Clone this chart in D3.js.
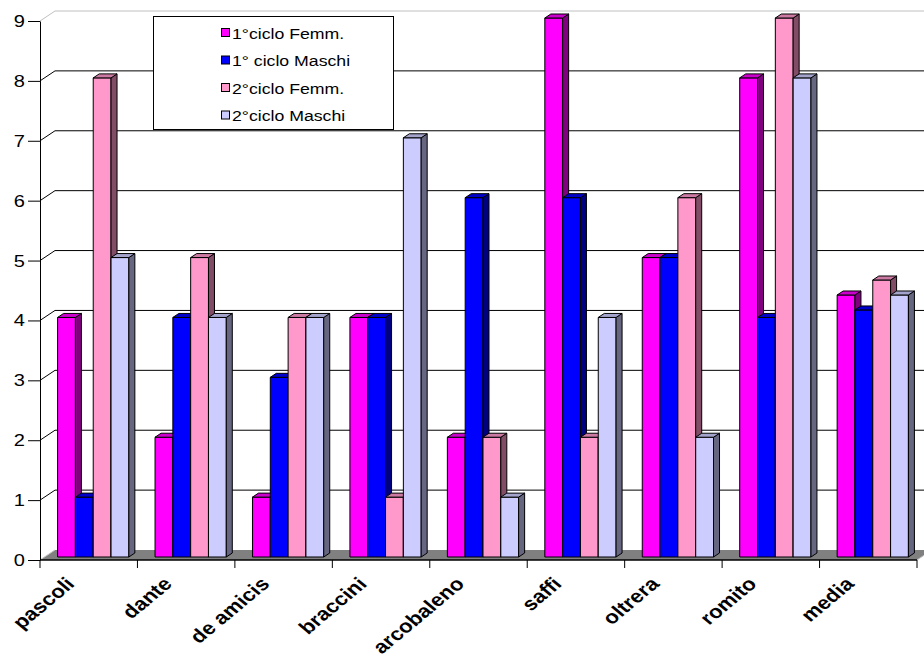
<!DOCTYPE html>
<html><head><meta charset="utf-8">
<script src="https://cdn.jsdelivr.net/npm/d3@7"></script>
<style>body{margin:0;background:#fff}svg{display:block}</style>
</head><body>
<svg id="c" width="924" height="660"></svg>
<script>
const categories = ["pascoli","dante","de amicis","braccini","arcobaleno","saffi","oltrera","romito","media"];
const seriesNames = ["1°ciclo Femm.","1° ciclo Maschi","2°ciclo Femm.","2°ciclo Maschi"];
const femm1   = [4,2,1,4,2,9,5,8,4.375];
const maschi1 = [1,4,3,4,6,6,5,4,4.125];
const femm2   = [8,5,4,1,2,2,6,9,4.625];
const maschi2 = [5,4,4,7,1,4,2,8,4.375];
const yTicks = [0,1,2,3,4,5,6,7,8,9];
const frontColors = ["#FF00FF","#0000FF","#FF99CC","#CCCCFF"];
const sideColors  = ["#800080","#000080","#804C66","#666680"];
const topColors   = ["#CC00CC","#0000CC","#CC7AA3","#A3A3CC"];

const seriesData = [femm1, maschi1, femm2, maschi2];
const svg = d3.select("#c");
const font = "'Liberation Sans', Arial, sans-serif";
const SX = 1.18; // horizontal stretch of text in the reference

const x = d3.scaleBand().domain(categories).range([40, 917]).paddingInner(0).paddingOuter(0);
const xs = d3.scaleBand().domain(seriesNames).range([0, x.bandwidth()]).paddingInner(0).paddingOuter(0.735);
const y = d3.scaleLinear().domain([0, 9]).range([560, 21]);
const DX = 15, DY = -10;          // full depth
const d0 = 0.3, d1 = 0.7;         // bar depth range

const x0 = 40, x1 = 917;
// floor
svg.append("path")
  .attr("d", `M${x0},${y(0)} L${x1},${y(0)} L${x1+DX},${y(0)+DY} L${x0+DX},${y(0)+DY} Z`)
  .attr("fill", "#808080").attr("stroke", "none");
// back wall gridlines + side wall lines
const g = svg.append("g");
yTicks.forEach(v => {
  if (v === 0) return;
  const col = v === 9 ? "#c0c0c0" : "#000";
  g.append("line").attr("x1", x0+DX).attr("x2", 924).attr("y1", y(v)+DY).attr("y2", y(v)+DY)
    .attr("stroke", col).attr("stroke-width", 1);
  g.append("line").attr("x1", x0).attr("x2", x0+DX).attr("y1", y(v)).attr("y2", y(v)+DY)
    .attr("stroke", col).attr("stroke-width", 1);
});
g.append("line").attr("x1", x0).attr("x2", x0+DX).attr("y1", y(0)).attr("y2", y(0)+DY)
  .attr("stroke", "#c0c0c0");
g.append("line").attr("x1", x1).attr("x2", x1+DX).attr("y1", y(0)).attr("y2", y(0)+DY)
  .attr("stroke", "#c0c0c0");

// bars
const bars = svg.append("g").attr("stroke", "#000").attr("stroke-width", 1).attr("stroke-linejoin", "round");
categories.forEach((c, ci) => {
  seriesNames.forEach((s, si) => {
    const v = seriesData[si][ci];
    const w = xs.bandwidth();
    const fx = x(c) + xs(s) + d0*DX;
    const fyTop = y(v) + d0*DY, fyBot = y(0) + d0*DY;
    const ddx = (d1-d0)*DX, ddy = (d1-d0)*DY;
    bars.append("rect").attr("x", fx).attr("y", fyTop).attr("width", w).attr("height", fyBot-fyTop)
      .attr("fill", frontColors[si]);
    bars.append("path").attr("d", `M${fx+w},${fyTop} L${fx+w+ddx},${fyTop+ddy} L${fx+w+ddx},${fyBot+ddy} L${fx+w},${fyBot} Z`)
      .attr("fill", sideColors[si]);
    bars.append("path").attr("d", `M${fx},${fyTop} L${fx+ddx},${fyTop+ddy} L${fx+w+ddx},${fyTop+ddy} L${fx+w},${fyTop} Z`)
      .attr("fill", topColors[si]);
  });
});

// y axis
const ya = svg.append("g").attr("transform", `translate(${x0},0)`)
  .call(d3.axisLeft(y).tickValues(yTicks).tickSize(12).tickSizeOuter(0));
ya.select(".domain").attr("stroke", "#000");
ya.selectAll(".tick line").attr("stroke", "#000");
ya.selectAll(".tick text").remove();
svg.append("g").selectAll("text").data(yTicks).join("text")
  .attr("transform", d => `translate(25,${y(d)+6}) scale(${SX},1)`)
  .attr("text-anchor", "end")
  .attr("font-family", font).attr("font-size", 17).attr("fill", "#000")
  .text(d => d);

// x axis
svg.append("line").attr("x1", x0).attr("x2", x1).attr("y1", y(0)).attr("y2", y(0)).attr("stroke", "#000").attr("stroke-width", 1.5);
const bounds = categories.map(c => x(c)).concat([x1]);
svg.append("g").selectAll("line").data(bounds).join("line")
  .attr("x1", d => d).attr("x2", d => d).attr("y1", y(0)).attr("y2", y(0)+8).attr("stroke", "#000");
svg.append("g").selectAll("text").data(categories).join("text")
  .attr("transform", d => `translate(${x(d) + x.bandwidth()/2 - 13},585) scale(1.2,1) rotate(-45)`)
  .attr("text-anchor", "end")
  .attr("font-family", font).attr("font-size", 18.5).attr("font-weight", "bold").attr("fill", "#000")
  .text(d => d);

// legend
const lg = svg.append("g");
lg.append("rect").attr("x", 153.5).attr("y", 16.5).attr("width", 240).attr("height", 113)
  .attr("fill", "#fff").attr("stroke", "#000");
seriesNames.forEach((s, i) => {
  const ly = 33 + i*27.5;
  lg.append("rect").attr("x", 221.5).attr("y", ly-4.5).attr("width", 8).attr("height", 8)
    .attr("fill", frontColors[i]).attr("stroke", "#000");
  lg.append("text").attr("transform", `translate(232,${ly+5.5}) scale(${SX},1)`)
    .attr("font-family", font).attr("font-size", 15)
    .attr("fill", "#000").text(s);
});
</script>
</body></html>
